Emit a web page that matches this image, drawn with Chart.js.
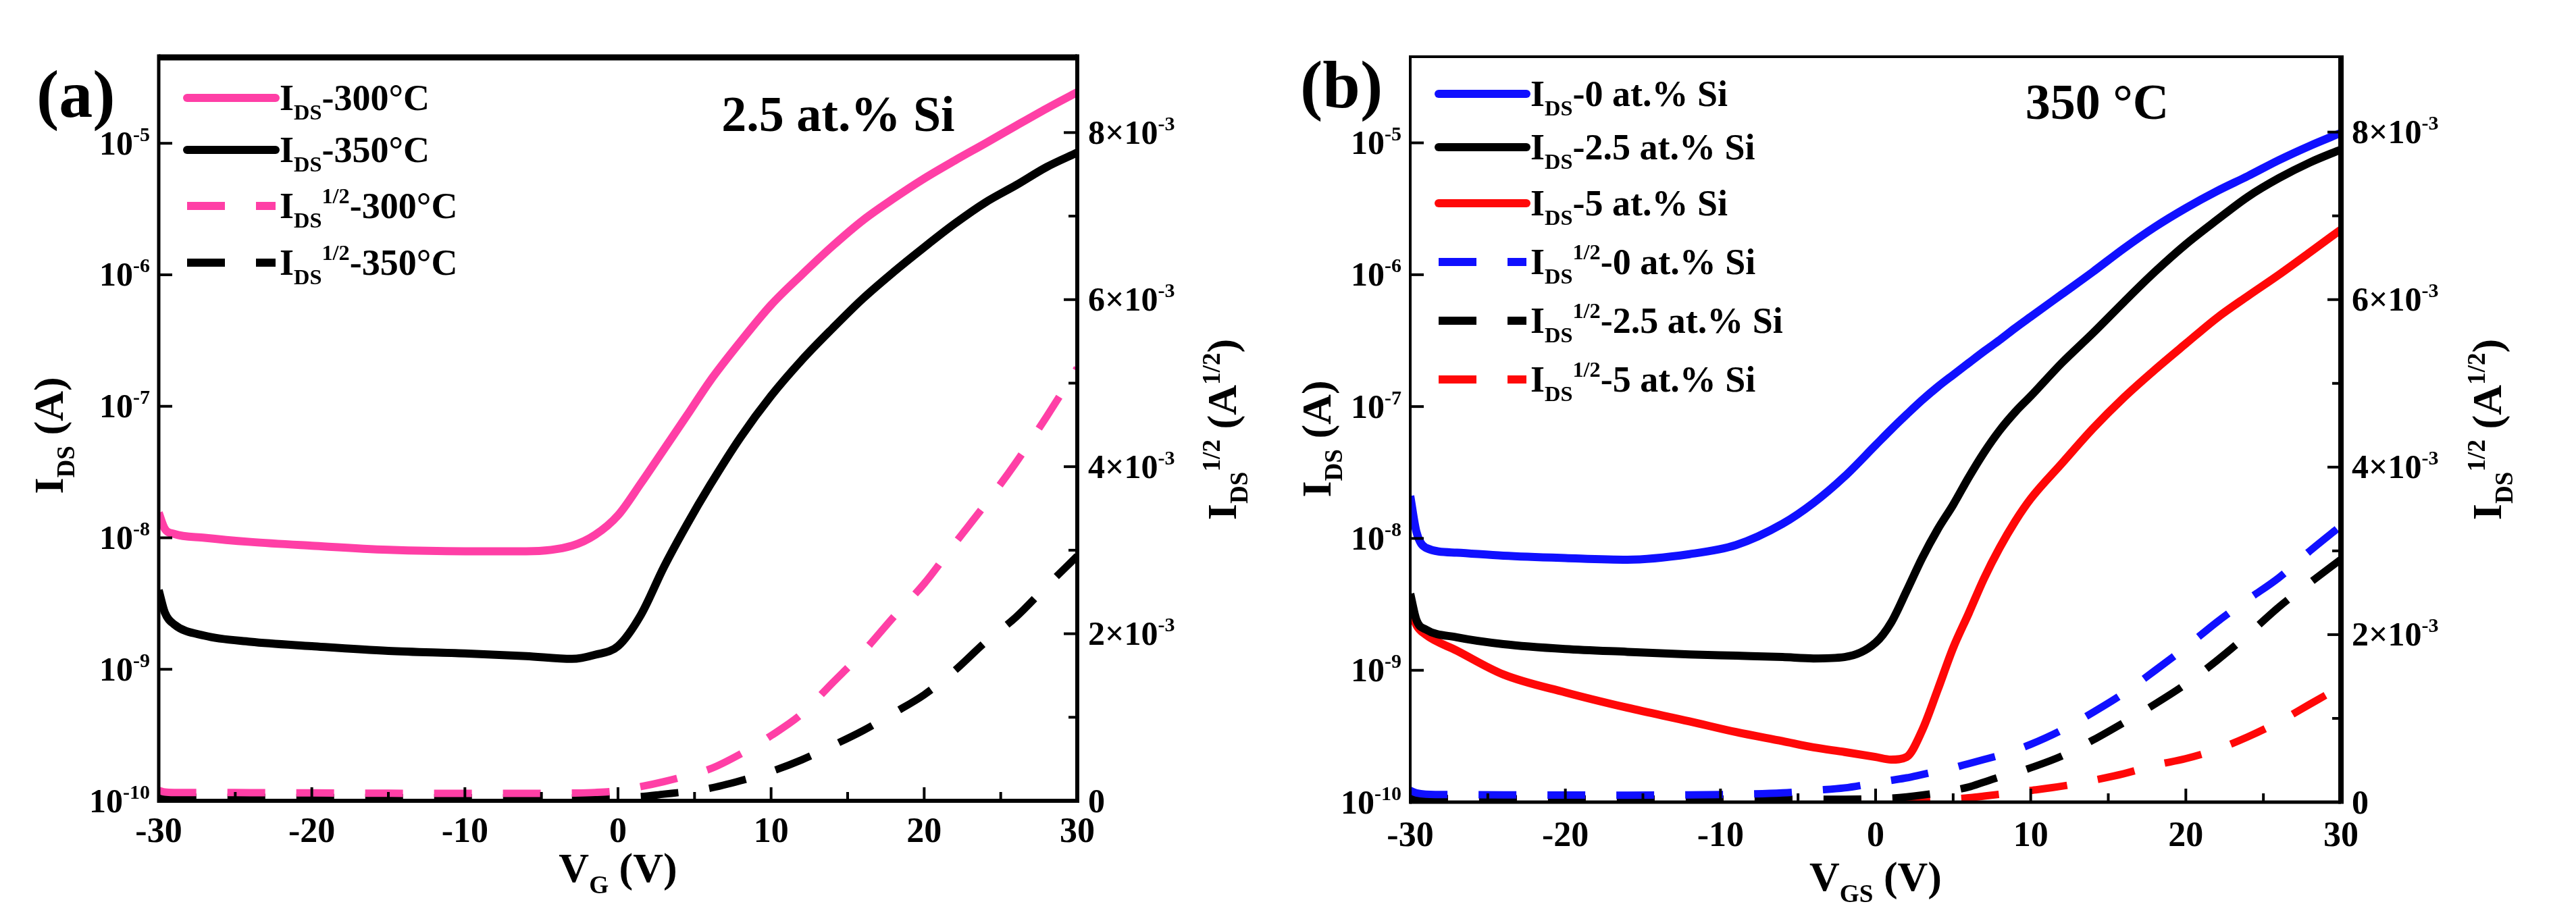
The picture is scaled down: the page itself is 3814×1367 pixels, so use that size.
<!DOCTYPE html>
<html lang="en">
<head>
    <meta charset="UTF-8">
    <title>Transfer curves</title>
    <script src="https://cdn.jsdelivr.net/npm/chart.js"></script>
    <style>
        body { margin: 0; background: #ffffff; }
        #wrap { position: relative; width: 3814px; height: 1367px; }
        canvas { position: absolute; top: 0; }
        #chartA { left: 0; }
        #chartB { left: 1907px; }
    </style>
</head>
<body>
<div id="wrap">
    <canvas id="chartA" width="1907" height="1367"></canvas>
    <canvas id="chartB" width="1907" height="1367"></canvas>
</div>
<script>
// ---- panel (a): 2.5 at.% Si, two anneal temperatures ----
const vgA = [-30, -29.6, -29, -27, -24, -20, -15, -10, -6, -3, -1.5, 0, 1.5, 3, 4.5, 6, 8, 10, 12, 14, 16, 18, 20, 22, 24, 26, 28, 30];
const idsA300 = [1.55e-8, 1.17e-8, 1.07e-8, 1.0e-8, 9.3e-9, 8.7e-9, 8.1e-9, 7.9e-9, 7.9e-9, 8.7e-9, 1.05e-8, 1.48e-8, 2.6e-8, 4.7e-8, 8.5e-8, 1.55e-7, 3.1e-7, 5.9e-7, 1.0e-6, 1.65e-6, 2.6e-6, 3.8e-6, 5.4e-6, 7.4e-6, 1.0e-5, 1.36e-5, 1.84e-5, 2.45e-5];
const idsA350 = [4.0e-9, 2.7e-9, 2.2e-9, 1.8e-9, 1.62e-9, 1.5e-9, 1.38e-9, 1.32e-9, 1.26e-9, 1.2e-9, 1.29e-9, 1.5e-9, 2.6e-9, 6.0e-9, 1.26e-8, 2.5e-8, 5.8e-8, 1.2e-7, 2.24e-7, 3.9e-7, 6.6e-7, 1.05e-6, 1.62e-6, 2.45e-6, 3.55e-6, 4.8e-6, 6.6e-6, 8.5e-6];
const sqrtA300 = [0.125e-3, 0.105e-3, 0.1e-3, 0.1e-3, 0.097e-3, 0.094e-3, 0.09e-3, 0.089e-3, 0.089e-3, 0.093e-3, 0.1e-3, 0.12e-3, 0.17e-3, 0.23e-3, 0.3e-3, 0.38e-3, 0.56e-3, 0.78e-3, 1.04e-3, 1.41e-3, 1.78e-3, 2.2e-3, 2.6e-3, 3.08e-3, 3.55e-3, 4.05e-3, 4.6e-3, 5.18e-3];
const sqrtA350 = [0.063e-3, 0.047e-3, 0.042e-3, 0.042e-3, 0.04e-3, 0.039e-3, 0.037e-3, 0.036e-3, 0.035e-3, 0.035e-3, 0.036e-3, 0.04e-3, 0.05e-3, 0.08e-3, 0.11e-3, 0.15e-3, 0.24e-3, 0.35e-3, 0.49e-3, 0.66e-3, 0.84e-3, 1.05e-3, 1.27e-3, 1.56e-3, 1.9e-3, 2.2e-3, 2.57e-3, 2.93e-3];

// ---- panel (b): 350 °C, three Si contents ----
const vgB = [-30, -29.6, -29, -27, -24, -20, -16, -12, -9, -6, -4, -2, 0, 1, 2, 3, 4, 5, 6, 7, 8, 9, 10, 12, 14, 16, 18, 20, 22, 24, 26, 28, 30];
const idsB0 = [2.1e-8, 1.12e-8, 8.5e-9, 7.8e-9, 7.4e-9, 7.1e-9, 6.9e-9, 7.6e-9, 8.9e-9, 1.29e-8, 1.86e-8, 2.95e-8, 5.1e-8, 6.7e-8, 8.7e-8, 1.12e-7, 1.41e-7, 1.74e-7, 2.14e-7, 2.63e-7, 3.2e-7, 3.94e-7, 4.8e-7, 7.1e-7, 1.05e-6, 1.58e-6, 2.3e-6, 3.2e-6, 4.3e-6, 5.6e-6, 7.4e-6, 9.5e-6, 1.19e-5];
const idsB25 = [3.8e-9, 2.4e-9, 2.04e-9, 1.78e-9, 1.58e-9, 1.45e-9, 1.38e-9, 1.32e-9, 1.29e-9, 1.26e-9, 1.23e-9, 1.26e-9, 1.62e-9, 2.3e-9, 4.0e-9, 7.1e-9, 1.17e-8, 1.8e-8, 2.9e-8, 4.5e-8, 6.6e-8, 9.1e-8, 1.2e-7, 2.14e-7, 3.6e-7, 6.2e-7, 1.05e-6, 1.7e-6, 2.6e-6, 3.9e-6, 5.4e-6, 7.1e-6, 8.9e-6];
const idsB5 = [2.95e-9, 2.2e-9, 1.86e-9, 1.41e-9, 9.3e-10, 6.8e-10, 5.2e-10, 4.1e-10, 3.4e-10, 2.9e-10, 2.6e-10, 2.4e-10, 2.2e-10, 2.1e-10, 2.2e-10, 3.5e-10, 7.1e-10, 1.48e-9, 2.7e-9, 5.0e-9, 8.5e-9, 1.35e-8, 2.0e-8, 3.7e-8, 6.8e-8, 1.17e-7, 1.9e-7, 3.0e-7, 4.7e-7, 6.9e-7, 1.0e-6, 1.48e-6, 2.2e-6];
const sqrtB0 = [0.14e-3, 0.11e-3, 0.095e-3, 0.09e-3, 0.087e-3, 0.085e-3, 0.083e-3, 0.087e-3, 0.094e-3, 0.11e-3, 0.14e-3, 0.17e-3, 0.23e-3, 0.26e-3, 0.29e-3, 0.33e-3, 0.37e-3, 0.41e-3, 0.46e-3, 0.51e-3, 0.56e-3, 0.62e-3, 0.69e-3, 0.86e-3, 1.07e-3, 1.3e-3, 1.57e-3, 1.85e-3, 2.15e-3, 2.42e-3, 2.68e-3, 3.0e-3, 3.3e-3];
const sqrtB25 = [0.06e-3, 0.05e-3, 0.045e-3, 0.042e-3, 0.04e-3, 0.038e-3, 0.037e-3, 0.036e-3, 0.036e-3, 0.035e-3, 0.035e-3, 0.035e-3, 0.04e-3, 0.048e-3, 0.063e-3, 0.084e-3, 0.11e-3, 0.14e-3, 0.18e-3, 0.24e-3, 0.3e-3, 0.35e-3, 0.41e-3, 0.55e-3, 0.74e-3, 0.95e-3, 1.17e-3, 1.41e-3, 1.69e-3, 2.0e-3, 2.33e-3, 2.62e-3, 2.9e-3];
const sqrtB5 = [0.054e-3, 0.047e-3, 0.043e-3, 0.038e-3, 0.031e-3, 0.026e-3, 0.023e-3, 0.02e-3, 0.019e-3, 0.017e-3, 0.016e-3, 0.015e-3, 0.015e-3, 0.015e-3, 0.015e-3, 0.019e-3, 0.027e-3, 0.038e-3, 0.052e-3, 0.072e-3, 0.094e-3, 0.117e-3, 0.14e-3, 0.19e-3, 0.26e-3, 0.34e-3, 0.44e-3, 0.52e-3, 0.63e-3, 0.78e-3, 0.96e-3, 1.17e-3, 1.38e-3];

// ---- axes ----
const xMajorTicks = [-30, -20, -10, 0, 10, 20, 30];
const xMinorTicks = [-25, -15, -5, 5, 15, 25];
const logTicks = [1e-10, 1e-9, 1e-8, 1e-7, 1e-6, 1e-5];
const logTickLabels = ['10^{-10}', '10^{-9}', '10^{-8}', '10^{-7}', '10^{-6}', '10^{-5}'];
const sqrtTicks = [0, 2e-3, 4e-3, 6e-3, 8e-3];
const sqrtTickLabels = ['0', '2×10^{-3}', '4×10^{-3}', '6×10^{-3}', '8×10^{-3}'];
const sqrtMinorTicks = [1e-3, 3e-3, 5e-3, 7e-3];

const PINK = '#ff3fa6';
const BLACK = '#000000';
const BLUE = '#1010ff';
const RED = '#ff0808';
const DASH = [56, 46];
const FONT = '"Liberation Serif", "Times New Roman", serif';

// tiny rich text: _{sub} and ^{sup}
function parseRich(str) {
    const out = [];
    const re = /([_^])\{([^}]*)\}|([^_^]+)/g;
    let m;
    while ((m = re.exec(str))) {
        if (m[3]) out.push({ t: m[3], mode: 0 });
        else out.push({ t: m[2], mode: m[1] === '_' ? 1 : 2 });
    }
    return out;
}

function drawRich(ctx, str, x, y, size, align) {
    const parts = parseRich(str);
    const small = size * 0.6;
    let w = 0;
    parts.forEach(p => {
        ctx.font = 'bold ' + (p.mode ? small : size) + 'px ' + FONT;
        p.w = ctx.measureText(p.t).width;
        w += p.w;
    });
    let cx = align === 'center' ? x - w / 2 : (align === 'right' ? x - w : x);
    const base = y + size * 0.33;
    ctx.textAlign = 'left';
    ctx.textBaseline = 'alphabetic';
    parts.forEach(p => {
        ctx.font = 'bold ' + (p.mode ? small : size) + 'px ' + FONT;
        const dy = p.mode === 1 ? size * 0.27 : (p.mode === 2 ? -size * 0.4 : 0);
        ctx.fillText(p.t, cx, base + dy);
        cx += p.w;
    });
}

function makeDeco(d) {
    return {
        id: 'deco',
        afterDraw(chart) {
            const ctx = chart.ctx;
            const a = chart.chartArea;
            const sx = chart.scales.x, sy = chart.scales.y, sr = chart.scales.y1;
            ctx.save();
            ctx.fillStyle = '#000';
            ctx.strokeStyle = '#000';
            ctx.lineCap = 'butt';

            // frame
            const fw = d.frame;
            ctx.lineWidth = fw.left;
            ctx.beginPath(); ctx.moveTo(a.left, a.top - fw.top / 2); ctx.lineTo(a.left, a.bottom + fw.bottom / 2); ctx.stroke();
            ctx.lineWidth = fw.right;
            ctx.beginPath(); ctx.moveTo(a.right, a.top - fw.top / 2); ctx.lineTo(a.right, a.bottom + fw.bottom / 2); ctx.stroke();
            ctx.lineWidth = fw.top;
            ctx.beginPath(); ctx.moveTo(a.left, a.top); ctx.lineTo(a.right, a.top); ctx.stroke();
            ctx.lineWidth = fw.bottom;
            ctx.beginPath(); ctx.moveTo(a.left, a.bottom); ctx.lineTo(a.right, a.bottom); ctx.stroke();

            // inward ticks
            ctx.lineWidth = 4;
            xMajorTicks.concat(xMinorTicks).forEach(v => {
                const px = sx.getPixelForValue(v);
                const len = xMajorTicks.includes(v) ? 20 : 13;
                ctx.beginPath(); ctx.moveTo(px, a.bottom); ctx.lineTo(px, a.bottom - len); ctx.stroke();
            });
            logTicks.forEach(v => {
                const py = sy.getPixelForValue(v);
                ctx.beginPath(); ctx.moveTo(a.left, py); ctx.lineTo(a.left + 20, py); ctx.stroke();
            });
            sqrtTicks.concat(sqrtMinorTicks).forEach(v => {
                const py = sr.getPixelForValue(v);
                const len = sqrtTicks.includes(v) ? 20 : 13;
                ctx.beginPath(); ctx.moveTo(a.right, py); ctx.lineTo(a.right - len, py); ctx.stroke();
            });

            // tick labels
            xMajorTicks.forEach(v => {
                drawRich(ctx, String(v), sx.getPixelForValue(v), a.bottom + d.xLabelDy, 52, 'center');
            });
            logTicks.forEach((v, i) => {
                drawRich(ctx, logTickLabels[i], a.left - 13, sy.getPixelForValue(v), 50, 'right');
            });
            sqrtTicks.forEach((v, i) => {
                drawRich(ctx, sqrtTickLabels[i], a.right + 16, sr.getPixelForValue(v), 50, 'left');
            });

            // axis titles
            drawRich(ctx, d.xTitle, (a.left + a.right) / 2, d.xTitleY, 62, 'center');
            ctx.save();
            ctx.translate(d.yTitleX, d.yTitleY);
            ctx.rotate(-Math.PI / 2);
            drawRich(ctx, 'I_{DS} (A)', 0, 0, 62, 'center');
            ctx.restore();
            ctx.save();
            ctx.translate(d.y1TitleX, d.y1TitleY);
            ctx.rotate(-Math.PI / 2);
            drawRich(ctx, 'I_{DS}^{1/2} (A^{1/2})', 0, 0, 62, 'center');
            ctx.restore();

            // panel letter and note
            drawRich(ctx, d.letter, d.letterX, d.letterY, 100, 'left');
            drawRich(ctx, d.note, d.noteX, d.noteY, 74, 'center');

            // legend
            chart.data.datasets.forEach((ds, i) => {
                const y = d.legendY[i];
                const dashed = ds.borderDash && ds.borderDash.length;
                ctx.strokeStyle = ds.borderColor;
                ctx.lineWidth = 12;
                ctx.setLineDash(dashed ? DASH : []);
                ctx.lineCap = dashed ? 'butt' : 'round';
                ctx.beginPath(); ctx.moveTo(d.legendX0, y); ctx.lineTo(d.legendX1, y); ctx.stroke();
                ctx.setLineDash([]);
                ctx.fillStyle = '#000';
                drawRich(ctx, ds.label, d.legendX1 + 6, y, 54, 'left');
            });
            ctx.restore();
        }
    };
}

function series(xs, ys, label, color, dashed, axis) {
    return {
        label: label,
        data: xs.map((v, i) => ({ x: v, y: ys[i] })),
        borderColor: color,
        borderWidth: dashed ? 11 : 12,
        borderDash: dashed ? DASH : [],
        pointRadius: 0,
        cubicInterpolationMode: 'monotone',
        fill: false,
        yAxisID: axis
    };
}

function baseOptions(pad) {
    return {
        responsive: false,
        devicePixelRatio: 1,
        animation: false,
        layout: { padding: pad },
        plugins: { legend: { display: false }, tooltip: { enabled: false } },
        scales: {
            x: { type: 'linear', min: -30, max: 30, display: false },
            y: { type: 'logarithmic', min: 1e-10, max: 4.5e-5, display: false, position: 'left' },
            y1: { type: 'linear', min: 0, max: 8.9e-3, display: false, position: 'right' }
        }
    };
}

new Chart(document.getElementById('chartA'), {
    type: 'line',
    data: {
        datasets: [
            series(vgA, idsA300, 'I_{DS}-300°C', PINK, false, 'y'),
            series(vgA, idsA350, 'I_{DS}-350°C', BLACK, false, 'y'),
            series(vgA, sqrtA300, 'I_{DS}^{1/2}-300°C', PINK, true, 'y1'),
            series(vgA, sqrtA350, 'I_{DS}^{1/2}-350°C', BLACK, true, 'y1')
        ]
    },
    options: baseOptions({ left: 235, right: 312, top: 85, bottom: 181 }),
    plugins: [makeDeco({
        frame: { left: 5, right: 6, top: 9, bottom: 6 },
        xLabelDy: 44, xTitle: 'V_{G} (V)', xTitleY: 1286,
        yTitleX: 73, yTitleY: 645, y1TitleX: 1810, y1TitleY: 636,
        letter: '(a)', letterX: 54, letterY: 140,
        note: '2.5 at.% Si', noteX: 1241, noteY: 170,
        legendX0: 277, legendX1: 408, legendY: [145, 222, 305, 389]
    })]
});

new Chart(document.getElementById('chartB'), {
    type: 'line',
    data: {
        datasets: [
            series(vgB, idsB0, 'I_{DS}-0 at.% Si', BLUE, false, 'y'),
            series(vgB, idsB25, 'I_{DS}-2.5 at.% Si', BLACK, false, 'y'),
            series(vgB, idsB5, 'I_{DS}-5 at.% Si', RED, false, 'y'),
            series(vgB, sqrtB0, 'I_{DS}^{1/2}-0 at.% Si', BLUE, true, 'y1'),
            series(vgB, sqrtB25, 'I_{DS}^{1/2}-2.5 at.% Si', BLACK, true, 'y1'),
            series(vgB, sqrtB5, 'I_{DS}^{1/2}-5 at.% Si', RED, true, 'y1')
        ]
    },
    options: baseOptions({ left: 181, right: 348, top: 84, bottom: 179 }),
    plugins: [makeDeco({
        frame: { left: 4, right: 8, top: 4, bottom: 5 },
        xLabelDy: 48, xTitle: 'V_{GS} (V)', xTitleY: 1299,
        yTitleX: 43, yTitleY: 650, y1TitleX: 1776, y1TitleY: 636,
        letter: '(b)', letterX: 18, letterY: 126,
        note: '350 °C', noteX: 1198, noteY: 152,
        legendX0: 223, legendX1: 353, legendY: [139, 218, 301, 388, 475, 562]
    })]
});
</script>
</body>
</html>
